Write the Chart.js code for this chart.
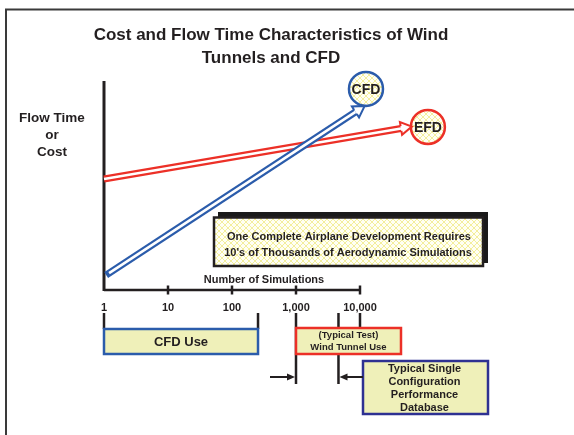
<!DOCTYPE html>
<html>
<head>
<meta charset="utf-8">
<script src="https://cdn.jsdelivr.net/npm/chart.js@4"></script>
<style>
html, body { margin: 0; padding: 0; background: #fff; }
#wrap { width: 574px; height: 435px; }
</style>
</head>
<body>
<div id="wrap"><canvas id="myChart" width="574" height="435"></canvas></div>
<script>
// number of simulations (log axis)
var decadeTicks = [1, 10, 100, 1000, 10000];
var tickLabels = ['1', '10', '100', '1,000', '10,000'];

// flow time / cost trends
var cfdX = [1.2, 8500];
var cfdY = [8.1, 85.2];
var efdX = [1, 43700];
var efdY = [53.1, 77.3];

// badges at the arrow ends
var badgeNames = ['CFD', 'EFD'];
var badgeX = [12400, 115000];
var badgeY = [96.2, 78];

// ranges under the axis
var cfdUse = [1, 255];
var tunnelUse = [1000, 43700];
var databaseSpan = [1000, 4610];
var databaseBox = [11140, 1000000];

var INK = '#231f20';
var BLUE = '#2b5cab';
var RED = '#ec3027';
var NAVY = '#2e3192';
var PALE = '#eff0b9';
var FONT = '"Liberation Sans", Arial, sans-serif';

function hatch() {
    var c = document.createElement('canvas');
    c.width = 6; c.height = 6;
    var g = c.getContext('2d');
    g.fillStyle = '#fffff4';
    g.fillRect(0, 0, 6, 6);
    g.strokeStyle = '#f3ee9c';
    g.lineWidth = 1;
    g.beginPath();
    g.moveTo(0, 0); g.lineTo(6, 6);
    g.moveTo(6, 0); g.lineTo(0, 6);
    g.stroke();
    return g.createPattern(c, 'repeat');
}
var pattern = hatch();

function pts(xs, ys) {
    var out = [];
    xs.forEach(function(v, i) { out.push({x: v, y: ys[i]}); });
    return out;
}

function txt(ctx, s, x, y, size, align) {
    ctx.font = 'bold ' + size + 'px ' + FONT;
    ctx.textAlign = align || 'center';
    ctx.textBaseline = 'alphabetic';
    ctx.fillStyle = INK;
    ctx.fillText(s, x, y);
}

function vline(ctx, x, y1, y2, w) {
    ctx.beginPath();
    ctx.lineWidth = w;
    ctx.strokeStyle = INK;
    ctx.moveTo(x, y1);
    ctx.lineTo(x, y2);
    ctx.stroke();
}

function box(ctx, x1, y1, x2, y2, fill, stroke, w) {
    ctx.fillStyle = fill;
    ctx.fillRect(x1, y1, x2 - x1, y2 - y1);
    ctx.lineWidth = w;
    ctx.strokeStyle = stroke;
    ctx.strokeRect(x1, y1, x2 - x1, y2 - y1);
}

// hollow arrow head placed in front of the shaft end
function hollowHead(ctx, meta, color) {
    var a = meta.data[meta.data.length - 2], b = meta.data[meta.data.length - 1];
    var ang = Math.atan2(b.y - a.y, b.x - a.x);
    var cx = Math.cos(ang), cy = Math.sin(ang);
    var px = -cy, py = cx;
    var len = 11, hw = 6.5, sw = 2.4;
    var tip = [b.x + cx * len, b.y + cy * len];
    ctx.beginPath();
    ctx.moveTo(b.x + px * hw, b.y + py * hw);
    ctx.lineTo(tip[0], tip[1]);
    ctx.lineTo(b.x - px * hw, b.y - py * hw);
    ctx.closePath();
    ctx.fillStyle = '#fff';
    ctx.fill();
    ctx.beginPath();
    ctx.moveTo(b.x + px * sw, b.y + py * sw);
    ctx.lineTo(b.x + px * hw, b.y + py * hw);
    ctx.lineTo(tip[0], tip[1]);
    ctx.lineTo(b.x - px * hw, b.y - py * hw);
    ctx.lineTo(b.x - px * sw, b.y - py * sw);
    ctx.lineWidth = 2;
    ctx.strokeStyle = color;
    ctx.lineJoin = 'miter';
    ctx.stroke();
}

function smallArrow(ctx, x1, x2, y) {
    var dir = x2 > x1 ? 1 : -1;
    ctx.beginPath();
    ctx.lineWidth = 2;
    ctx.strokeStyle = INK;
    ctx.moveTo(x1, y);
    ctx.lineTo(x2 - dir * 5, y);
    ctx.stroke();
    ctx.beginPath();
    ctx.fillStyle = INK;
    ctx.moveTo(x2, y);
    ctx.lineTo(x2 - dir * 8, y - 3.5);
    ctx.lineTo(x2 - dir * 8, y + 3.5);
    ctx.closePath();
    ctx.fill();
}

var diagram = {
    id: 'diagram',
    beforeDraw: function(chart) {
        var ctx = chart.ctx;
        var area = chart.chartArea;
        var x = chart.scales.x;
        ctx.save();
        ctx.fillStyle = '#fff';
        ctx.fillRect(0, 0, chart.width, chart.height);
        ctx.lineWidth = 2;
        ctx.strokeStyle = '#3a3a3a';
        ctx.strokeRect(6, 9.5, 700, 600);

        txt(ctx, 'Cost and Flow Time Characteristics of Wind', 271, 40, 17);
        txt(ctx, 'Tunnels and CFD', 271, 63, 17);

        txt(ctx, 'Flow Time', 52, 122, 13.5);
        txt(ctx, 'or', 52, 139, 13.5);
        txt(ctx, 'Cost', 52, 156, 13.5);

        // y axis
        vline(ctx, area.left, area.top, area.bottom + 1, 3);

        // x axis: 1 .. 10,000
        var x0 = x.getPixelForValue(decadeTicks[0]);
        var x1 = x.getPixelForValue(decadeTicks[decadeTicks.length - 1]);
        ctx.beginPath();
        ctx.lineWidth = 2.5;
        ctx.strokeStyle = INK;
        ctx.moveTo(x0, area.bottom);
        ctx.lineTo(x1, area.bottom);
        ctx.stroke();
        decadeTicks.forEach(function(v, i) {
            var p = x.getPixelForValue(v);
            if (i > 0) vline(ctx, p, area.bottom - 4.5, area.bottom + 4.5, 2.5);
            txt(ctx, tickLabels[i], p, area.bottom + 21, 11);
        });
        txt(ctx, 'Number of Simulations', 264, area.bottom - 7, 11);

        // marker lines under the labels
        var b = area.bottom;
        vline(ctx, x.getPixelForValue(cfdUse[0]), b + 23, b + 39, 2.5);
        vline(ctx, x.getPixelForValue(cfdUse[1]), b + 23, b + 39, 2.5);
        vline(ctx, x.getPixelForValue(databaseSpan[0]), b + 23, b + 94, 2.5);
        vline(ctx, x.getPixelForValue(databaseSpan[1]), b + 23, b + 94, 2.5);
        vline(ctx, x.getPixelForValue(decadeTicks[4]), b + 23, b + 38, 2.5);

        // CFD use
        var c1 = x.getPixelForValue(cfdUse[0]), c2 = x.getPixelForValue(cfdUse[1]);
        box(ctx, c1, b + 39, c2, b + 64, PALE, BLUE, 2.5);
        txt(ctx, 'CFD Use', (c1 + c2) / 2, b + 56, 13);

        // wind tunnel use
        var t1 = x.getPixelForValue(tunnelUse[0]), t2 = x.getPixelForValue(tunnelUse[1]);
        box(ctx, t1, b + 38, t2, b + 64, PALE, RED, 2.5);
        txt(ctx, '(Typical Test)', (t1 + t2) / 2, b + 48, 9.5);
        txt(ctx, 'Wind Tunnel Use', (t1 + t2) / 2, b + 60, 9.5);

        // database
        var d1 = x.getPixelForValue(databaseBox[0]), d2 = x.getPixelForValue(databaseBox[1]);
        box(ctx, d1, b + 71, d2, b + 124, PALE, NAVY, 2.5);
        txt(ctx, 'Typical Single', (d1 + d2) / 2 - 1, b + 82, 11);
        txt(ctx, 'Configuration', (d1 + d2) / 2 - 1, b + 95, 11);
        txt(ctx, 'Performance', (d1 + d2) / 2 - 1, b + 108, 11);
        txt(ctx, 'Database', (d1 + d2) / 2 - 1, b + 121, 11);
        smallArrow(ctx, 270, x.getPixelForValue(databaseSpan[0]) - 1, b + 87);
        smallArrow(ctx, d1, x.getPixelForValue(databaseSpan[1]) + 1, b + 87);

        // note box with shadow
        ctx.fillStyle = '#1a1a1a';
        ctx.fillRect(218, 212, 270, 51);
        box(ctx, 214, 217.5, 483, 266, pattern, INK, 2.5);
        txt(ctx, 'One Complete Airplane Development Requires', 349, 240, 11);
        txt(ctx, "10's of Thousands of Aerodynamic Simulations", 348, 256, 11);
        ctx.restore();
    },
    afterDatasetsDraw: function(chart) {
        var ctx = chart.ctx;
        ctx.save();
        hollowHead(ctx, chart.getDatasetMeta(3), RED);
        hollowHead(ctx, chart.getDatasetMeta(1), BLUE);
        var m = chart.getDatasetMeta(4);
        m.data.forEach(function(p, i) {
            txt(ctx, badgeNames[i], p.x, p.y + 5, 14);
        });
        ctx.restore();
    }
};

new Chart(document.getElementById('myChart'), {
    type: 'line',
    data: {
        datasets: [
            { data: pts(cfdX, cfdY), borderColor: '#fff', borderWidth: 2.6, pointRadius: 0, borderCapStyle: 'butt', clip: false, order: 0 },
            { data: pts(cfdX, cfdY), borderColor: BLUE, borderWidth: 7, pointRadius: 0, borderCapStyle: 'square', clip: false, order: 1 },
            { data: pts(efdX, efdY), borderColor: '#fff', borderWidth: 2.6, pointRadius: 0, borderCapStyle: 'butt', clip: false, order: 2 },
            { data: pts(efdX, efdY), borderColor: RED, borderWidth: 7, pointRadius: 0, borderCapStyle: 'butt', clip: false, order: 3 },
            { data: pts(badgeX, badgeY), showLine: false, pointRadius: 17, pointBorderWidth: 2.5,
              pointBackgroundColor: pattern, pointBorderColor: [BLUE, RED], clip: false, order: -1 }
        ]
    },
    options: {
        responsive: false,
        animation: false,
        events: [],
        layout: { padding: { left: 104, right: 86, top: 81, bottom: 145 } },
        plugins: { legend: { display: false }, tooltip: { enabled: false }, title: { display: false } },
        scales: {
            x: { type: 'logarithmic', min: 1, max: 1000000, display: false },
            y: { type: 'linear', min: 0, max: 100, display: false }
        }
    },
    plugins: [diagram]
});
</script>
</body>
</html>
